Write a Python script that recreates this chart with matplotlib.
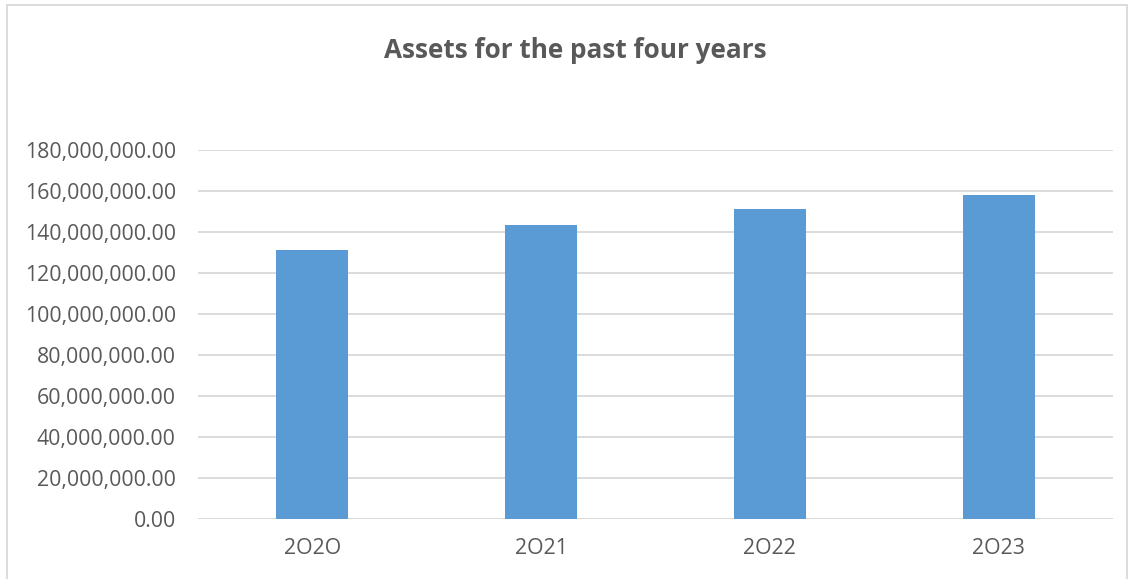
import matplotlib
matplotlib.use("Agg")
import matplotlib.pyplot as plt
from matplotlib.patches import Rectangle
from matplotlib.ticker import FuncFormatter

years = ["2O2O", "2O21", "2O22", "2O23"]
assets = [131_200_000, 143_300_000, 151_100_000, 157_900_000]
y_ticks = [0, 20_000_000, 40_000_000, 60_000_000, 80_000_000,
           100_000_000, 120_000_000, 140_000_000, 160_000_000, 180_000_000]

text_color = "#595959"
grid_color = "#d9d9d9"
bar_color = "#5B9BD5"
font = "Open Sans"

W, H = 1129, 579
fig = plt.figure(figsize=(W / 100, H / 100), dpi=100)
fig.patch.set_facecolor("white")

# chart frame
fig.patches.append(Rectangle((7 / W, -0.05), (1127 - 7) / W, 1.05 - 5 / H,
                             transform=fig.transFigure, fill=False,
                             edgecolor="#d9d9d9", linewidth=1.3))

ax = fig.add_axes([198 / W, 1 - 519 / H, (1113 - 198) / W, (519 - 150) / H])
x = range(len(years))
ax.bar(x, assets, width=0.315, color=bar_color, zorder=3)

ax.set_xlim(-0.5, len(years) - 0.5)
ax.set_ylim(0, 180_000_000)
ax.set_yticks(y_ticks)
ax.yaxis.set_major_formatter(FuncFormatter(lambda v, p: f"{v:,.2f}"))
ax.set_xticks(list(x))
ax.set_xticklabels(years)

ax.grid(axis="y", color=grid_color, linewidth=1.3, zorder=0)
ax.set_axisbelow(True)
for side in ["top", "right", "left", "bottom"]:
    ax.spines[side].set_visible(False)
ax.axhline(0, color=grid_color, linewidth=1.3, zorder=2)

ax.tick_params(axis="both", length=0, labelcolor=text_color, labelsize=15.3)
ax.tick_params(axis="y", pad=16)
ax.tick_params(axis="x", pad=14)
for lbl in ax.get_xticklabels() + ax.get_yticklabels():
    lbl.set_family(font)

fig.text(575 / W, 1 - 51 / H, "Assets for the past four years",
         ha="center", va="center", fontsize=18.8, fontweight="bold",
         color=text_color, family=font)

fig.savefig("out.png", dpi=100)
